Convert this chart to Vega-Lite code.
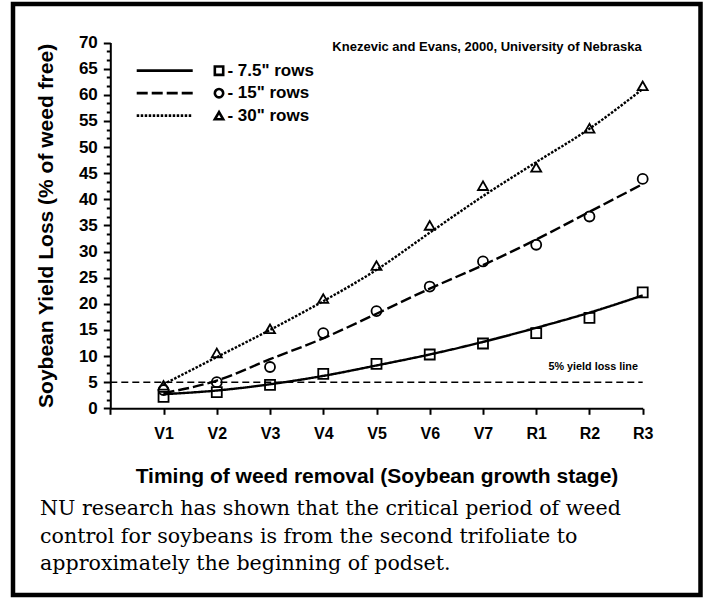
{
  "$schema": "https://vega.github.io/schema/vega-lite/v6.json",
  "width": 687.5,
  "height": 591,
  "autosize": {"type": "none"},
  "padding": {"left": 13, "top": 4, "right": 5, "bottom": 3},
  "background": "white",
  "config": {
    "view": {"stroke": "black", "strokeWidth": 4.5},
    "font": "Liberation Sans",
    "axis": {"domainColor": "black", "tickColor": "black", "labelColor": "black", "titleColor": "black", "grid": false, "domainWidth": 2, "tickWidth": 2}
  },
  "datasets": {
    "observed": [
      {"rows": "7.5\" rows", "stage": "V1", "t": 1, "loss": 2.2},
      {"rows": "7.5\" rows", "stage": "V2", "t": 2, "loss": 3.1},
      {"rows": "7.5\" rows", "stage": "V3", "t": 3, "loss": 4.5},
      {"rows": "7.5\" rows", "stage": "V4", "t": 4, "loss": 6.6},
      {"rows": "7.5\" rows", "stage": "V5", "t": 5, "loss": 8.5},
      {"rows": "7.5\" rows", "stage": "V6", "t": 6, "loss": 10.3},
      {"rows": "7.5\" rows", "stage": "V7", "t": 7, "loss": 12.4},
      {"rows": "7.5\" rows", "stage": "R1", "t": 8, "loss": 14.4},
      {"rows": "7.5\" rows", "stage": "R2", "t": 9, "loss": 17.3},
      {"rows": "7.5\" rows", "stage": "R3", "t": 10, "loss": 22.2},
      {"rows": "15\" rows", "stage": "V1", "t": 1, "loss": 3.5},
      {"rows": "15\" rows", "stage": "V2", "t": 2, "loss": 5.0},
      {"rows": "15\" rows", "stage": "V3", "t": 3, "loss": 7.9},
      {"rows": "15\" rows", "stage": "V4", "t": 4, "loss": 14.4},
      {"rows": "15\" rows", "stage": "V5", "t": 5, "loss": 18.6},
      {"rows": "15\" rows", "stage": "V6", "t": 6, "loss": 23.3},
      {"rows": "15\" rows", "stage": "V7", "t": 7, "loss": 28.1},
      {"rows": "15\" rows", "stage": "R1", "t": 8, "loss": 31.3},
      {"rows": "15\" rows", "stage": "R2", "t": 9, "loss": 36.7},
      {"rows": "15\" rows", "stage": "R3", "t": 10, "loss": 43.9},
      {"rows": "30\" rows", "stage": "V1", "t": 1, "loss": 4.4},
      {"rows": "30\" rows", "stage": "V2", "t": 2, "loss": 10.6},
      {"rows": "30\" rows", "stage": "V3", "t": 3, "loss": 15.2},
      {"rows": "30\" rows", "stage": "V4", "t": 4, "loss": 21.0},
      {"rows": "30\" rows", "stage": "V5", "t": 5, "loss": 27.3},
      {"rows": "30\" rows", "stage": "V6", "t": 6, "loss": 35.0},
      {"rows": "30\" rows", "stage": "V7", "t": 7, "loss": 42.6},
      {"rows": "30\" rows", "stage": "R1", "t": 8, "loss": 46.1},
      {"rows": "30\" rows", "stage": "R2", "t": 9, "loss": 53.6},
      {"rows": "30\" rows", "stage": "R3", "t": 10, "loss": 61.7}
    ],
    "fitted": [
      {"rows": "7.5\" rows", "t": 1, "fit": 2.7},
      {"rows": "7.5\" rows", "t": 2, "fit": 3.4},
      {"rows": "7.5\" rows", "t": 3, "fit": 4.6},
      {"rows": "7.5\" rows", "t": 4, "fit": 6.2},
      {"rows": "7.5\" rows", "t": 5, "fit": 8.2},
      {"rows": "7.5\" rows", "t": 6, "fit": 10.3},
      {"rows": "7.5\" rows", "t": 7, "fit": 12.7},
      {"rows": "7.5\" rows", "t": 8, "fit": 15.4},
      {"rows": "7.5\" rows", "t": 9, "fit": 18.3},
      {"rows": "7.5\" rows", "t": 10, "fit": 21.6},
      {"rows": "15\" rows", "t": 1, "fit": 2.9},
      {"rows": "15\" rows", "t": 2, "fit": 5.3},
      {"rows": "15\" rows", "t": 3, "fit": 9.4},
      {"rows": "15\" rows", "t": 4, "fit": 13.4},
      {"rows": "15\" rows", "t": 5, "fit": 18.1},
      {"rows": "15\" rows", "t": 6, "fit": 22.9},
      {"rows": "15\" rows", "t": 7, "fit": 27.4},
      {"rows": "15\" rows", "t": 8, "fit": 32.3},
      {"rows": "15\" rows", "t": 9, "fit": 37.6},
      {"rows": "15\" rows", "t": 10, "fit": 42.9},
      {"rows": "30\" rows", "t": 1, "fit": 4.6},
      {"rows": "30\" rows", "t": 2, "fit": 9.8},
      {"rows": "30\" rows", "t": 3, "fit": 15.0},
      {"rows": "30\" rows", "t": 4, "fit": 20.5},
      {"rows": "30\" rows", "t": 5, "fit": 26.5},
      {"rows": "30\" rows", "t": 6, "fit": 33.6},
      {"rows": "30\" rows", "t": 7, "fit": 40.6},
      {"rows": "30\" rows", "t": 8, "fit": 47.1},
      {"rows": "30\" rows", "t": 9, "fit": 53.5},
      {"rows": "30\" rows", "t": 10, "fit": 61.1}
    ],
    "legend": [
      {"rows": "7.5\" rows", "label": "- 7.5\" rows"},
      {"rows": "15\" rows", "label": "- 15\" rows"},
      {"rows": "30\" rows", "label": "- 30\" rows"}
    ]
  },
  "resolve": {"scale": {"y": "independent"}},
  "layer": [
    {
      "resolve": {"axis": {"y": "independent"}},
      "layer": [
        {
          "data": {"name": "observed"},
          "mark": {"type": "point", "filled": false, "strokeWidth": 1.8, "color": "black", "size": 100, "opacity": 1},
          "encoding": {
            "x": {"field": "t", "type": "quantitative", "scale": {"domain": [0, 10], "range": [97.3, 629.7], "nice": false, "zero": false},
                  "axis": {"values": [0, 1, 2, 3, 4, 5, 6, 7, 8, 9, 10], "labelExpr": "['','V1','V2','V3','V4','V5','V6','V7','R1','R2','R3'][datum.value]", "title": "Timing of weed removal (Soybean growth stage)", "orient": "bottom", "offset": -186.7, "tickSize": 6, "labelPadding": 11, "labelFontSize": 16, "labelFontWeight": "bold", "labelFlush": false, "labelOverlap": false, "titleFontSize": 21, "titleFontWeight": "bold", "titlePadding": 24}},
            "y": {"field": "loss", "type": "quantitative", "scale": {"domain": [0, 70], "range": [404.3, 38.5], "nice": false, "zero": false},
                  "axis": {"orient": "left", "offset": -97.3, "values": [0, 5, 10, 15, 20, 25, 30, 35, 40, 45, 50, 55, 60, 65, 70], "tickSize": 7, "labelPadding": 6, "labelFontSize": 17, "labelFontWeight": "bold", "title": "Soybean Yield Loss (% of weed free)", "titleFontSize": 21, "titleFontWeight": "bold", "titlePadding": 22}},
            "shape": {"field": "rows", "type": "nominal", "scale": {"domain": ["7.5\" rows", "15\" rows", "30\" rows"], "range": ["square", "circle", "triangle-up"]}, "legend": null}
          }
        },
        {
          "data": {"values": [{"level": 5}]},
          "mark": {"type": "rule", "strokeDash": [7, 4], "strokeWidth": 1.5, "color": "black"},
          "encoding": {
            "x": {"datum": 0, "type": "quantitative", "scale": {"domain": [0, 10], "range": [97.3, 629.7], "nice": false, "zero": false}},
            "x2": {"datum": 10},
            "y": {"field": "level", "type": "quantitative", "scale": {"domain": [0, 70], "range": [404.3, 38.5], "nice": false, "zero": false}, "axis": null}
          }
        },
        {
          "data": {"name": "fitted"},
          "mark": {"type": "line", "interpolate": "monotone", "strokeWidth": 2.4, "color": "black"},
          "encoding": {
            "x": {"field": "t", "type": "quantitative", "scale": {"domain": [0, 10], "range": [97.3, 629.7], "nice": false, "zero": false}},
            "y": {"field": "fit", "type": "quantitative", "scale": {"domain": [0, 70], "range": [404.3, 38.5], "nice": false, "zero": false},
                  "axis": {"orient": "left", "offset": -97.3, "values": [1.667, 3.333, 6.667, 8.333, 11.667, 13.333, 16.667, 18.333, 21.667, 23.333, 26.667, 28.333, 31.667, 33.333, 36.667, 38.333, 41.667, 43.333, 46.667, 48.333, 51.667, 53.333, 56.667, 58.333, 61.667, 63.333, 66.667, 68.333], "tickSize": 4, "labels": false, "domain": false, "title": null}},
            "strokeDash": {"field": "rows", "type": "nominal", "scale": {"domain": ["7.5\" rows", "15\" rows", "30\" rows"], "range": [[1, 0], [11, 4], [2.5, 1.5]]}, "legend": null},
            "detail": {"field": "rows"}
          }
        },
        {
          "data": {"values": [{"note": "Knezevic and Evans, 2000, University of Nebraska"}]},
          "mark": {"type": "text", "align": "right", "baseline": "middle", "fontSize": 13, "fontWeight": "bold", "color": "black"},
          "encoding": {
            "x": {"datum": 9.98, "type": "quantitative", "scale": {"domain": [0, 10], "range": [97.3, 629.7], "nice": false, "zero": false}},
            "y": {"datum": 69.2, "type": "quantitative", "scale": {"domain": [0, 70], "range": [404.3, 38.5], "nice": false, "zero": false}, "axis": null},
            "text": {"field": "note"}
          }
        },
        {
          "data": {"values": [{"note": "5% yield loss line"}]},
          "mark": {"type": "text", "align": "right", "baseline": "middle", "fontSize": 10.8, "fontWeight": "bold", "color": "black"},
          "encoding": {
            "x": {"datum": 9.91, "type": "quantitative", "scale": {"domain": [0, 10], "range": [97.3, 629.7], "nice": false, "zero": false}},
            "y": {"datum": 7.96, "type": "quantitative", "scale": {"domain": [0, 70], "range": [404.3, 38.5], "nice": false, "zero": false}, "axis": null},
            "text": {"field": "note"}
          }
        },
        {
          "data": {"values": [{"note": "NU research has shown that the critical period of weed\ncontrol for soybeans  is from the second trifoliate to\napproximately the beginning of podset."}]},
          "mark": {"type": "text", "align": "left", "baseline": "alphabetic", "font": "DejaVu Serif", "fontSize": 20.6, "lineHeight": 27.5, "lineBreak": "\n", "color": "black"},
          "encoding": {
            "x": {"datum": -1.32, "type": "quantitative", "scale": {"domain": [0, 10], "range": [97.3, 629.7], "nice": false, "zero": false}},
            "y": {"datum": -20.42, "type": "quantitative", "scale": {"domain": [0, 70], "range": [404.3, 38.5], "nice": false, "zero": false}, "axis": null},
            "text": {"field": "note"}
          }
        }
      ]
    },
    {
      "data": {"name": "legend"},
      "encoding": {
        "y": {"field": "rows", "type": "nominal", "scale": {"type": "point", "domain": ["7.5\" rows", "15\" rows", "30\" rows"], "range": [66.7, 111.7], "padding": 0}, "axis": null}
      },
      "layer": [
        {
          "mark": {"type": "rule", "strokeWidth": 2.8, "color": "black"},
          "encoding": {
            "x": {"datum": 0.496, "type": "quantitative", "scale": {"domain": [0, 10], "range": [97.3, 629.7], "nice": false, "zero": false}},
            "x2": {"datum": 1.548},
            "strokeDash": {"field": "rows", "type": "nominal", "scale": {"domain": ["7.5\" rows", "15\" rows", "30\" rows"], "range": [[1, 0], [11, 4], [2.5, 1.5]]}, "legend": null}
          }
        },
        {
          "mark": {"type": "point", "filled": false, "strokeWidth": 2.6, "color": "black", "size": 70, "opacity": 1},
          "encoding": {
            "x": {"datum": 2.042, "type": "quantitative", "scale": {"domain": [0, 10], "range": [97.3, 629.7], "nice": false, "zero": false}},
            "shape": {"field": "rows", "type": "nominal", "scale": {"domain": ["7.5\" rows", "15\" rows", "30\" rows"], "range": ["square", "circle", "triangle-up"]}, "legend": null}
          }
        },
        {
          "mark": {"type": "text", "align": "left", "baseline": "middle", "fontSize": 17, "fontWeight": "bold", "color": "black"},
          "encoding": {
            "x": {"datum": 2.2, "type": "quantitative", "scale": {"domain": [0, 10], "range": [97.3, 629.7], "nice": false, "zero": false}},
            "text": {"field": "label"}
          }
        }
      ]
    }
  ]
}
